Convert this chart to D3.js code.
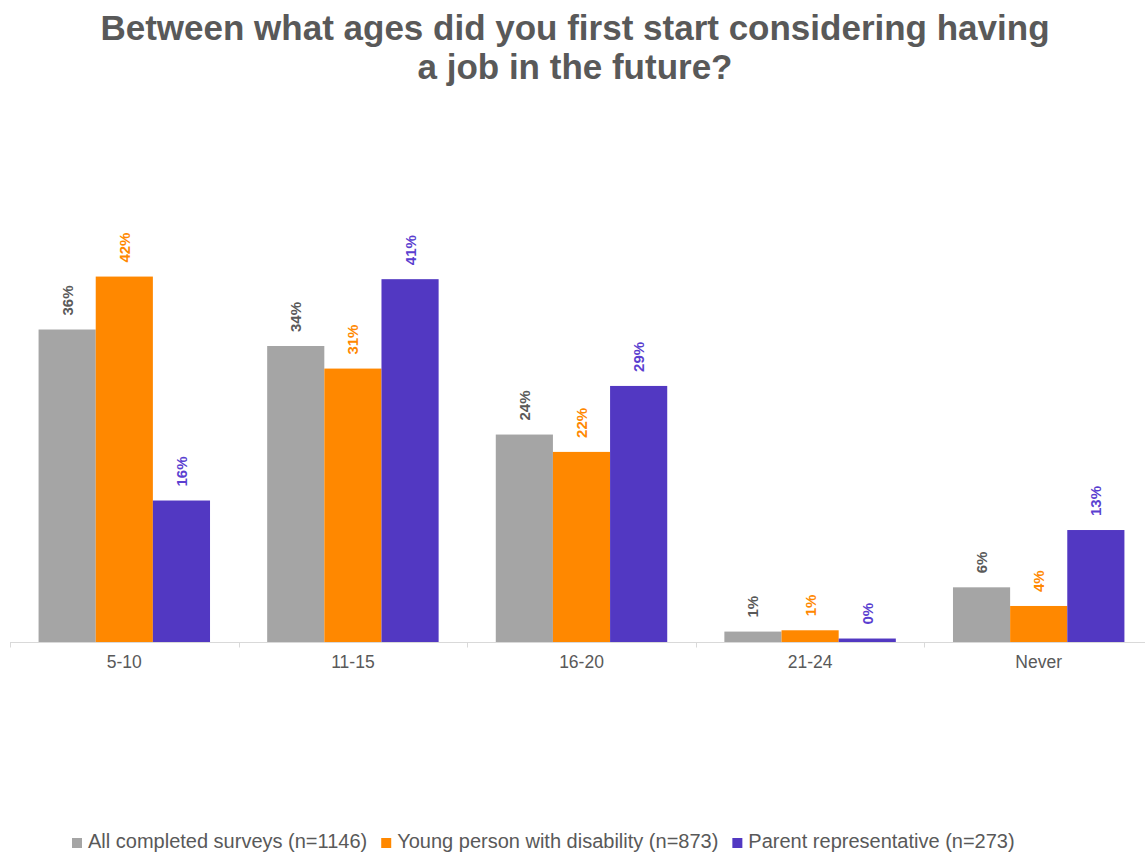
<!DOCTYPE html>
<html>
<head>
<meta charset="utf-8">
<script src="https://cdn.jsdelivr.net/npm/d3@7"></script>
<style>
  html, body { margin: 0; padding: 0; background: #fff; }
  svg { display: block; }
  text { font-family: "Liberation Sans", Arial, sans-serif; }
</style>
</head>
<body>
<svg id="chart" width="1145" height="852"></svg>
<script>
const titleLines = ["Between what ages did you first start considering having", "a job in the future?"];
const categories = ["5-10", "11-15", "16-20", "21-24", "Never"];
const seriesNames = ["All completed surveys (n=1146)", "Young person with disability (n=873)", "Parent representative (n=273)"];
const allSurveys = [36.0, 34.1, 23.9, 1.2, 6.3];
const youngPerson = [42.1, 31.5, 21.9, 1.35, 4.15];
const parentRep = [16.3, 41.8, 29.5, 0.4, 12.9];
const allLabels = ["36%", "34%", "24%", "1%", "6%"];
const youngLabels = ["42%", "31%", "22%", "1%", "4%"];
const parentLabels = ["16%", "41%", "29%", "0%", "13%"];
const barColors = ["#a5a5a5", "#ff8800", "#5238c2"];
const labelColors = ["#595959", "#ff8800", "#5b3fd0"];

const series = [
  { name: seriesNames[0], values: allSurveys, labels: allLabels },
  { name: seriesNames[1], values: youngPerson, labels: youngLabels },
  { name: seriesNames[2], values: parentRep, labels: parentLabels }
];

const svg = d3.select("#chart");
const baseY = 642;

// title
const title = svg.append("text")
  .attr("x", 575).attr("y", 40)
  .attr("text-anchor", "middle")
  .attr("font-size", 35).attr("font-weight", "bold")
  .attr("fill", "#595959");
titleLines.forEach((t, i) => {
  title.append("tspan").attr("x", 575).attr("dy", i === 0 ? 0 : 39).text(t);
});

const x0 = d3.scaleBand().domain(categories).range([10, 1153]).paddingInner(0.25).paddingOuter(0.125);
const x1 = d3.scaleBand().domain(d3.range(series.length)).range([0, x0.bandwidth()]);
const y = d3.scaleLinear().domain([0, 50]).range([baseY, 208]);

// bars
const groups = svg.append("g").selectAll("g").data(categories).join("g")
  .attr("transform", d => `translate(${x0(d)},0)`);

groups.selectAll("rect")
  .data((c, ci) => series.map((s, si) => ({ si, v: s.values[ci], label: s.labels[ci] })))
  .join("rect")
  .attr("x", d => x1(d.si))
  .attr("width", x1.bandwidth())
  .attr("y", d => y(d.v))
  .attr("height", d => baseY - y(d.v))
  .attr("fill", d => barColors[d.si]);

groups.selectAll("text.vl")
  .data((c, ci) => series.map((s, si) => ({ si, v: s.values[ci], label: s.labels[ci] })))
  .join("text")
  .attr("class", "vl")
  .attr("transform", d => `translate(${x1(d.si) + x1.bandwidth() / 2},${y(d.v) - 14}) rotate(-90)`)
  .attr("dominant-baseline", "central")
  .attr("text-anchor", "start")
  .attr("font-size", 15).attr("font-weight", "bold")
  .attr("fill", d => labelColors[d.si])
  .text(d => d.label);

// axis
const axisG = svg.append("g").attr("transform", `translate(0,${baseY + 0.5})`);
axisG.append("line").attr("x1", 10).attr("x2", 1145).attr("y1", 0).attr("y2", 0)
  .attr("stroke", "#d9d9d9").attr("stroke-width", 1);
const step = x0.step();
categories.forEach(c => {
  const bx = Math.round(x0(c) - step * 0.125) + 0.5;
  axisG.append("line").attr("x1", bx).attr("x2", bx).attr("y1", 0).attr("y2", 5)
    .attr("stroke", "#d9d9d9");
});
const axis = d3.axisBottom(x0).tickSize(0).tickPadding(14);
const ag = svg.append("g").attr("transform", `translate(0,${baseY})`).call(axis);
ag.select(".domain").remove();
ag.selectAll("text").attr("font-size", 17.5).attr("fill", "#595959")
  .attr("font-family", "Liberation Sans, Arial, sans-serif");

// legend
const legend = svg.append("g");
let lx = 72;
series.forEach((s, i) => {
  legend.append("rect").attr("x", lx).attr("y", 838).attr("width", 10).attr("height", 10).attr("fill", barColors[i]);
  const t = legend.append("text").attr("x", lx + 16).attr("y", 848)
    .attr("font-size", 20).attr("fill", "#595959").text(s.name);
  lx += 16 + t.node().getComputedTextLength() + 14;
});
</script>
</body>
</html>
